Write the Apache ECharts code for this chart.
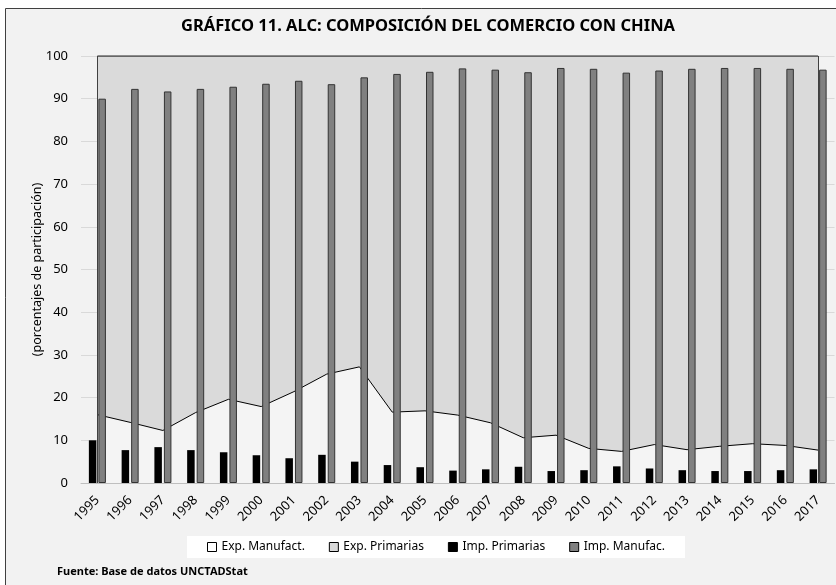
<!DOCTYPE html>
<html>
<head>
<meta charset="utf-8">
<script src="https://cdn.jsdelivr.net/npm/echarts@6/dist/echarts.min.js"></script>
<style>
html, body { margin: 0; padding: 0; background: #ffffff; }
#chart { width: 836px; height: 585px; }
</style>
</head>
<body>
<div id="chart"></div>
<script>
var years = ['1995','1996','1997','1998','1999','2000','2001','2002','2003','2004','2005','2006',
             '2007','2008','2009','2010','2011','2012','2013','2014','2015','2016','2017'];

var expManufact = [16.0, 14.2, 12.3, 16.5, 19.6, 17.9, 21.4, 25.5, 27.2, 16.6, 16.9, 15.9,
                   14.1, 10.6, 11.2, 8.1, 7.4, 9.0, 7.8, 8.6, 9.2, 8.8, 7.7];
var expPrimarias = [84.0, 85.8, 87.7, 83.5, 80.4, 82.1, 78.6, 74.5, 72.8, 83.4, 83.1, 84.1,
                    85.9, 89.4, 88.8, 91.9, 92.6, 91.0, 92.2, 91.4, 90.8, 91.2, 92.3];
var impPrimarias = [10.0, 7.7, 8.4, 7.7, 7.2, 6.5, 5.8, 6.6, 5.0, 4.2, 3.7, 2.9,
                    3.2, 3.8, 2.8, 3.0, 3.9, 3.4, 3.0, 2.8, 2.8, 3.0, 3.2];
var impManufac = [90.0, 92.3, 91.7, 92.3, 92.8, 93.5, 94.2, 93.4, 95.0, 95.8, 96.3, 97.1,
                  96.8, 96.2, 97.2, 97.0, 96.1, 96.6, 97.0, 97.2, 97.2, 97.0, 96.8];

var font = 'Noto Sans';

var chart = echarts.init(document.getElementById('chart'));

var option = {
    backgroundColor: '#ffffff',
    animation: false,
    textStyle: { fontFamily: font },
    title: {
        text: 'GRÁFICO 11. ALC: COMPOSICIÓN DEL COMERCIO CON CHINA',
        left: 181,
        top: 18,
        padding: 0,
        textStyle: { fontFamily: font, fontSize: 16.5, fontWeight: 'bold', color: '#000' }
    },
    graphic: [{
        type: 'rect',
        z: -10,
        shape: { x: 5.5, y: 8.5, width: 840, height: 590 },
        style: { fill: '#f2f2f2', stroke: '#404040', lineWidth: 1 }
    }, {
        type: 'text',
        left: 57,
        top: 566,
        style: {
            text: 'Fuente: Base de datos UNCTADStat',
            fontFamily: font, fontSize: 11, fontWeight: 'bold', fill: '#000'
        }
    }],
    legend: {
        top: 536,
        left: 187,
        backgroundColor: '#ffffff',
        padding: [5, 20, 5, 20],
        itemWidth: 9,
        itemHeight: 9,
        itemGap: 24,
        icon: 'rect',
        textStyle: { fontFamily: font, fontSize: 12, color: '#000' },
        data: [
            { name: 'Exp. Manufact.', itemStyle: { color: '#ffffff', borderColor: '#000', borderWidth: 1 } },
            { name: 'Exp. Primarias', itemStyle: { color: '#d9d9d9', borderColor: '#000', borderWidth: 1 } },
            { name: 'Imp. Primarias', itemStyle: { color: '#000000', borderColor: '#000', borderWidth: 1 } },
            { name: 'Imp. Manufac.', itemStyle: { color: '#808080', borderColor: '#000', borderWidth: 1 } }
        ]
    },
    grid: { left: 81, right: 1.5, top: 56, bottom: 102, containLabel: false },
    xAxis: {
        type: 'category',
        data: years,
        boundaryGap: true,
        axisLine: { show: true, lineStyle: { color: '#bfbfbf', width: 1 } },
        axisTick: { show: false },
        axisLabel: { rotate: 45, margin: 15, fontSize: 13, color: '#000', interval: 0 }
    },
    yAxis: {
        type: 'value',
        min: 0,
        max: 100,
        interval: 10,
        name: '(porcentajes de participación)',
        nameLocation: 'middle',
        nameGap: 37,
        nameMoveOverlap: false,
        nameTextStyle: { fontSize: 12.5, color: '#000' },
        axisLine: { show: false },
        axisTick: { show: false },
        axisLabel: { margin: 13, fontSize: 13, color: '#000' },
        splitLine: { lineStyle: { color: '#d9d9d9', width: 1 } }
    },
    series: [{
        name: 'Exp. Manufact.',
        type: 'line',
        stack: 'exp',
        z: 1,
        data: expManufact,
        symbol: 'none',
        lineStyle: { color: '#000', width: 1 },
        itemStyle: { color: '#ffffff' },
        areaStyle: { color: '#f4f4f4', opacity: 1 }
    }, {
        name: 'Exp. Primarias',
        type: 'line',
        stack: 'exp',
        z: 1,
        data: expPrimarias,
        symbol: 'none',
        lineStyle: { color: '#404040', width: 1.5 },
        itemStyle: { color: '#d9d9d9' },
        areaStyle: { color: '#dadada', opacity: 1 },
        markLine: {
            silent: true,
            symbol: 'none',
            label: { show: false },
            lineStyle: { color: '#404040', width: 1, type: 'solid' },
            data: [{ xAxis: '1995' }, { xAxis: '2017' }]
        }
    }, {
        name: 'Imp. Primarias',
        type: 'bar',
        z: 5,
        data: impPrimarias,
        barWidth: 7.5,
        barGap: '27%',
        itemStyle: { color: '#000000' }
    }, {
        name: 'Imp. Manufac.',
        type: 'bar',
        z: 5,
        data: impManufac,
        barWidth: 7.5,
        barGap: '27%',
        itemStyle: { color: '#808080', borderColor: '#333333', borderWidth: 1 }
    }]
};

chart.setOption(option);
</script>
</body>
</html>
